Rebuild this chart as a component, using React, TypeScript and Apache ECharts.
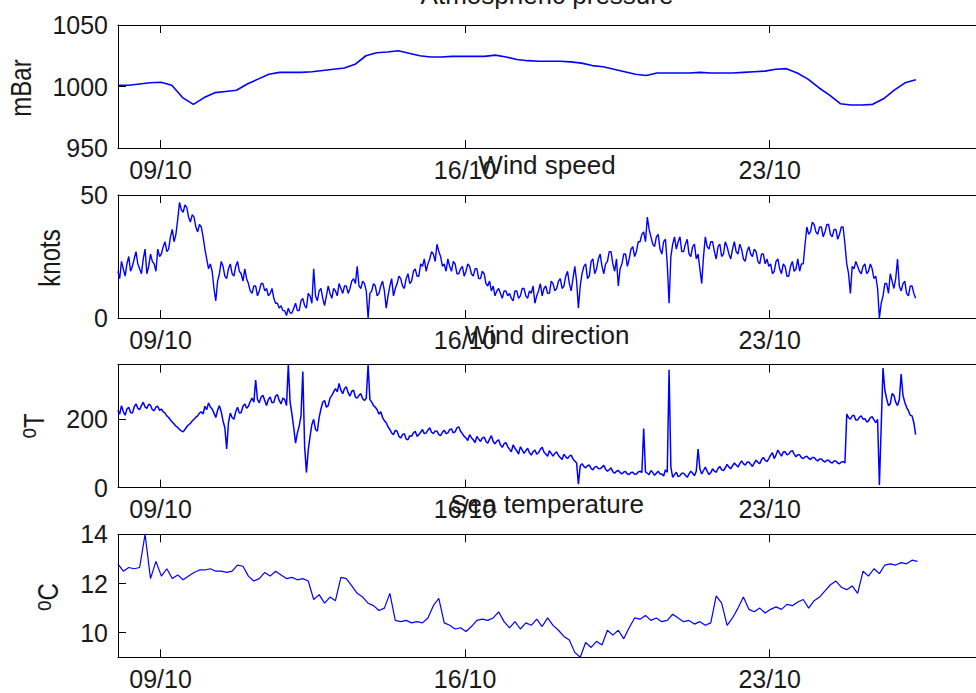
import React, { useEffect, useRef } from "react";
import * as echarts from "echarts";

// Time axis is expressed in days of October.
const X_MIN = 8.023;
const X_MAX = 27.74;
const TICK_DAYS = [9, 16, 23];
const TICK_LABELS = ["09/10", "16/10", "23/10"];

// Atmospheric pressure (mBar), sampled every ~6 h.
const PRESSURE_START = 8.02;
const PRESSURE_STEP = 0.2478;
const pressure = [
  1001, 1001, 1002, 1003, 1003.5, 1001, 991, 985.5, 991, 995, 996, 997,
  1002, 1006, 1010, 1011.5, 1011.5, 1011.5, 1012, 1013, 1014, 1015, 1018, 1025,
  1027.5, 1028, 1029, 1027, 1025, 1024, 1024, 1024.5, 1024.5, 1024.5, 1024.5, 1025.5,
  1024, 1022, 1021, 1020.5, 1020.5, 1020.5, 1020, 1019, 1017, 1016, 1014, 1012,
  1010, 1009, 1011, 1011, 1011, 1011, 1011.5, 1011, 1011, 1011, 1011.5, 1012,
  1012.5, 1014, 1014.5, 1011, 1006, 999, 993, 986, 985, 985, 985.5, 990,
  997, 1003, 1005.5,
];

// Wind speed (knots), hourly, one row per day.
const WIND_START = 8.02;
const WIND_STEP = 1 / 24;
const windSpeed = [
  19, 16, 23, 20, 17, 22, 25, 19, 21, 24, 27, 22, 20, 18, 24, 28, 18, 21, 26, 23, 22, 19, 28, 25,
  26, 29, 31, 27, 28, 33, 36, 31, 34, 40, 47, 44, 43, 46, 45, 41, 39, 42, 41, 37, 35, 38, 37, 33,
  28, 24, 20, 22, 19, 12, 7, 15, 18, 23, 21, 17, 16, 20, 22, 18, 17, 21, 23, 19, 18, 15, 20, 16,
  14, 11, 10, 13, 13, 9, 11, 14, 14, 11, 12, 9, 10, 12, 8, 6, 6, 4, 5, 3, 3, 1, 4, 2,
  2, 4, 6, 3, 3, 7, 8, 5, 4, 10, 9, 6, 20, 9, 7, 11, 12, 8, 5, 9, 13, 10, 8, 12,
  11, 9, 14, 12, 10, 13, 13, 10, 12, 15, 16, 14, 21, 13, 12, 15, 14, 11, 0, 10, 11, 14, 13, 9,
  10, 13, 15, 11, 4, 9, 13, 16, 9, 12, 14, 17, 16, 13, 12, 16, 18, 14, 15, 19, 20, 17, 17, 22,
  21, 24, 19, 22, 24, 27, 26, 23, 30, 27, 25, 21, 22, 19, 24, 21, 19, 23, 22, 18, 18, 20, 21, 17,
  19, 22, 21, 18, 17, 20, 20, 16, 16, 19, 18, 14, 13, 15, 11, 13, 9, 11, 12, 10, 8, 11, 11, 9,
  10, 8, 7, 11, 11, 8, 9, 12, 12, 9, 8, 11, 10, 13, 6, 9, 11, 14, 9, 12, 13, 10, 10, 15,
  14, 11, 12, 15, 16, 12, 13, 17, 19, 14, 11, 16, 21, 15, 4, 13, 18, 21, 22, 16, 17, 23, 24, 18,
  20, 24, 26, 21, 18, 22, 23, 27, 27, 22, 19, 24, 13, 20, 22, 26, 26, 21, 24, 28, 29, 25, 27, 31,
  31, 34, 35, 31, 41, 36, 33, 30, 29, 33, 34, 28, 26, 31, 32, 22, 6, 25, 30, 33, 28, 31, 33, 27,
  27, 30, 32, 26, 25, 29, 30, 24, 26, 20, 14, 25, 33, 29, 28, 31, 31, 27, 24, 29, 30, 25, 26, 31,
  29, 26, 24, 28, 31, 27, 26, 30, 28, 24, 23, 27, 29, 26, 25, 28, 27, 23, 22, 26, 26, 22, 24, 21,
  22, 18, 19, 23, 24, 20, 18, 22, 21, 17, 17, 21, 23, 19, 20, 24, 19, 22, 22, 30, 37, 34, 35, 39,
  38, 35, 34, 37, 37, 33, 35, 38, 38, 34, 33, 36, 36, 32, 34, 37, 37, 30, 22, 18, 10, 21, 20, 23,
  21, 19, 18, 21, 22, 18, 19, 22, 20, 16, 17, 12, 0, 6, 9, 14, 14, 10, 18, 15, 12, 16, 24, 13,
  11, 14, 15, 10, 9, 13, 13, 10, 8,
];

// Wind direction (degrees true), hourly, one row per day.
const windDirection = [
  226, 215, 240, 222, 212, 230, 235, 220, 218, 236, 245, 232, 228, 240, 250, 236, 232, 244, 241, 228, 225, 236, 238, 226,
  230, 222, 218, 210, 205, 198, 192, 186, 180, 176, 170, 166, 163, 170, 178, 184, 188, 195, 200, 206, 210, 218, 222, 215,
  238, 228, 248, 236, 230, 218, 205, 226, 240, 222, 195, 175, 113, 190, 218, 205, 200, 222, 235, 218, 220, 238, 245, 232,
  238, 252, 262, 250, 315, 258, 248, 265, 270, 255, 240, 258, 265, 248, 250, 268, 272, 255, 245, 262, 258, 240, 360, 250,
  215, 175, 130, 160, 180, 210, 340, 120, 44, 110, 150, 185, 200, 170, 165, 205, 230, 250, 255, 235, 240, 262, 270, 280,
  290, 280, 305, 285, 275, 290, 295, 278, 268, 282, 285, 265, 262, 270, 275, 260, 255, 262, 360, 258, 250, 240, 235, 228,
  215, 222, 205, 196, 190, 178, 170, 160, 155, 168, 165, 150, 145, 155, 158, 142, 140, 152, 150, 160, 165, 150, 155, 162,
  170, 158, 160, 168, 175, 162, 158, 166, 165, 155, 152, 162, 168, 158, 160, 170, 172, 160, 163, 175, 178, 165, 158, 150,
  145, 138, 155, 146, 140, 132, 150, 142, 135, 145, 148, 136, 130, 142, 152, 135, 128, 136, 140, 125, 118, 128, 132, 120,
  112, 105, 125, 115, 108, 98, 120, 110, 100, 108, 115, 102, 95, 105, 110, 98, 102, 112, 118, 104, 98, 92, 108, 100,
  92, 100, 105, 94, 88, 82, 98, 90, 85, 92, 95, 84, 78, 72, 10, 64, 70, 62, 58, 64, 66, 56, 52, 60,
  62, 56, 55, 60, 65, 54, 48, 52, 58, 46, 42, 48, 50, 44, 40, 46, 47, 40, 38, 44, 45, 39, 40, 46,
  48, 44, 173, 46, 42, 38, 50, 44, 36, 42, 48, 40, 40, 34, 52, 45, 345, 60, 30, 38, 45, 32, 35, 42,
  42, 36, 30, 40, 48, 42, 35, 48, 113, 55, 40, 50, 60, 48, 38, 44, 55, 48, 45, 56, 62, 52, 50, 58,
  68, 60, 55, 64, 72, 66, 60, 70, 78, 70, 66, 74, 75, 68, 62, 72, 80, 74, 70, 82, 88, 80, 76, 85,
  95, 102, 85, 96, 110, 100, 92, 104, 105, 96, 98, 106, 108, 98, 90, 96, 96, 88, 85, 90, 92, 86, 82, 88,
  88, 82, 78, 84, 84, 78, 75, 80, 80, 74, 72, 78, 78, 72, 70, 75, 76, 72, 215, 205, 200, 210, 212, 198,
  198, 206, 210, 200, 202, 192, 195, 205, 208, 198, 190, 200, 8, 180, 350, 285, 260, 240, 245, 275, 270, 250, 240, 258,
  332, 270, 250, 235, 225, 212, 210, 190, 155,
];

// Sea temperature (deg C), sampled every 3 h.
const TEMP_START = 8.02;
const TEMP_STEP = 1 / 8;
const seaTemperature = [
  12.8, 12.5, 12.65, 12.6, 12.65, 14.0, 12.2, 12.9,
  12.3, 12.6, 12.2, 12.35, 12.15, 12.3, 12.45, 12.55,
  12.55, 12.6, 12.5, 12.5, 12.45, 12.5, 12.75, 12.7,
  12.3, 12.1, 12.2, 12.45, 12.3, 12.5, 12.35, 12.2,
  12.25, 12.15, 12.2, 12.1, 11.35, 11.55, 11.2, 11.45,
  11.3, 12.25, 12.2, 11.9, 11.6, 11.45, 11.2, 11.1,
  10.9, 11.0, 11.6, 10.5, 10.45, 10.5, 10.4, 10.45,
  10.4, 10.6, 11.1, 11.4, 10.4, 10.3, 10.15, 10.2,
  10.05, 10.25, 10.5, 10.55, 10.5, 10.6, 10.85, 10.45,
  10.2, 10.45, 10.15, 10.4, 10.3, 10.55, 10.25, 10.6,
  10.3, 10.1, 9.85, 9.7, 9.2, 9.0, 9.6, 9.4,
  9.65, 9.5, 10.1, 9.9, 10.1, 9.75, 10.2, 10.6,
  10.55, 10.7, 10.5, 10.6, 10.45, 10.5, 10.75, 10.6,
  10.45, 10.5, 10.35, 10.45, 10.3, 10.4, 11.5, 11.2,
  10.3, 10.6, 11.0, 11.45, 10.95, 10.85, 11.0, 10.8,
  10.95, 11.05, 10.95, 11.15, 11.1, 11.25, 11.35, 11.0,
  11.3, 11.45, 11.7, 11.95, 12.1, 11.85, 11.75, 11.9,
  11.6, 12.5, 12.3, 12.6, 12.4, 12.75, 12.8, 12.75,
  12.85, 12.8, 12.95, 12.9,
];

const TITLES = ["Atmospheric pressure", "Wind speed", "Wind direction", "Sea temperature"];
const Y_MIN = [950, 0, 0, 9];
const Y_MAX = [1050, 50, 360, 14];
const Y_TICKS = [[950, 1000, 1050], [0, 50], [0, 200], [10, 12, 14]];

const FONT = '"Liberation Sans", Arial, Helvetica, sans-serif';
const TEXT_COLOR = "#1a1a1a";
const LINE_COLOR = "#0000ff";

// Layout of the four stacked axes
const GRID_LEFT = 118;
const GRID_TOPS = [25, 195, 364.6, 534.3];
const GRID_HEIGHT = 123;
const TITLE_X = 547;
const YLABEL_POS = [
  { x: 21, y: 88 },
  { x: 50.5, y: 258 },
  { x: 34, y: 426 },
  { x: 48.5, y: 597 },
];

function toPoints(start: number, step: number, values: number[]) {
  return values.map((v, i) => [start + i * step, v]);
}

export default function App() {
  const ref = useRef<HTMLDivElement>(null);

  useEffect(() => {
    if (!ref.current) return;
    const chart = echarts.init(ref.current, undefined, { renderer: "svg" });

    const seriesData = [
      toPoints(PRESSURE_START, PRESSURE_STEP, pressure),
      toPoints(WIND_START, WIND_STEP, windSpeed),
      toPoints(WIND_START, WIND_STEP, windDirection),
      toPoints(TEMP_START, TEMP_STEP, seaTemperature),
    ];
    const lineWidths = [1.6, 1.4, 1.5, 1.2];

    const axisLine = { show: true, onZero: false, lineStyle: { color: "#000", width: 1 } };
    const labelStyle = { fontSize: 25, fontFamily: FONT, color: TEXT_COLOR };

    const grid = GRID_TOPS.map((top) => ({
      left: GRID_LEFT,
      right: 0,
      top,
      height: GRID_HEIGHT,
      containLabel: false,
    }));

    const tickStyle = (values: number[]) => ({
      show: true,
      inside: true,
      length: 8,
      customValues: values,
      lineStyle: { color: "#000", width: 1 },
    });

    const xAxis: any[] = [];
    GRID_TOPS.forEach((_, i) => {
      xAxis.push({
        type: "value",
        gridIndex: i,
        position: "bottom",
        min: X_MIN,
        max: X_MAX,
        axisLine,
        axisTick: tickStyle(TICK_DAYS),
        axisLabel: {
          show: true,
          customValues: TICK_DAYS,
          margin: 9,
          formatter: (v: number) => {
            const k = TICK_DAYS.indexOf(Math.round(v));
            return k >= 0 ? TICK_LABELS[k] : "";
          },
          ...labelStyle,
        },
        splitLine: { show: false },
      });
      xAxis.push({
        type: "value",
        gridIndex: i,
        position: "top",
        min: X_MIN,
        max: X_MAX,
        axisLine,
        axisTick: tickStyle(TICK_DAYS),
        axisLabel: { show: false },
        splitLine: { show: false },
      });
    });

    const yAxis = GRID_TOPS.map((_, i) => ({
      type: "value",
      gridIndex: i,
      min: Y_MIN[i],
      max: Y_MAX[i],
      axisLine,
      axisTick: tickStyle(Y_TICKS[i]),
      axisLabel: {
        show: true,
        customValues: Y_TICKS[i],
        margin: 10,
        formatter: (v: number) => String(v),
        ...labelStyle,
      },
      splitLine: { show: false },
    }));

    const series = seriesData.map((data, i) => ({
      type: "line",
      xAxisIndex: i * 2,
      yAxisIndex: i,
      data,
      showSymbol: false,
      symbol: "none",
      silent: true,
      lineStyle: { color: LINE_COLOR, width: lineWidths[i] },
      z: 1,
    }));

    const titleTexts = TITLES.map((t, i) => ({
      type: "text",
      x: TITLE_X,
      y: GRID_TOPS[i] - 30,
      silent: true,
      z: 10,
      style: {
        text: t,
        font: `26px ${FONT}`,
        fill: TEXT_COLOR,
        align: "center",
        verticalAlign: "middle",
      },
    }));

    const supRich = {
      s: { fontSize: 19, fontFamily: FONT, padding: [0, 0, 10, 0] },
      n: { fontSize: 24, fontFamily: FONT },
    };
    const yNames = ["mBar", "knots", "{s|o}{n|T}", "{s|o}{n|C}"];
    const yLabelTexts = yNames.map((t, i) => ({
      type: "text",
      x: YLABEL_POS[i].x,
      y: YLABEL_POS[i].y,
      rotation: Math.PI / 2,
      scaleY: 1.22,
      silent: true,
      style: {
        text: t,
        font: `24px ${FONT}`,
        fill: TEXT_COLOR,
        align: "center",
        verticalAlign: "middle",
        rich: i >= 2 ? supRich : undefined,
      },
    }));

    chart.setOption({
      animation: false,
      backgroundColor: "#ffffff",
      grid,
      xAxis,
      yAxis,
      series,
      graphic: [...titleTexts, ...yLabelTexts],
    });

    return () => chart.dispose();
  }, []);

  return (
    <div
      ref={ref}
      style={{ position: "absolute", left: 0, top: 0, width: 976, height: 693, background: "#fff" }}
    />
  );
}
